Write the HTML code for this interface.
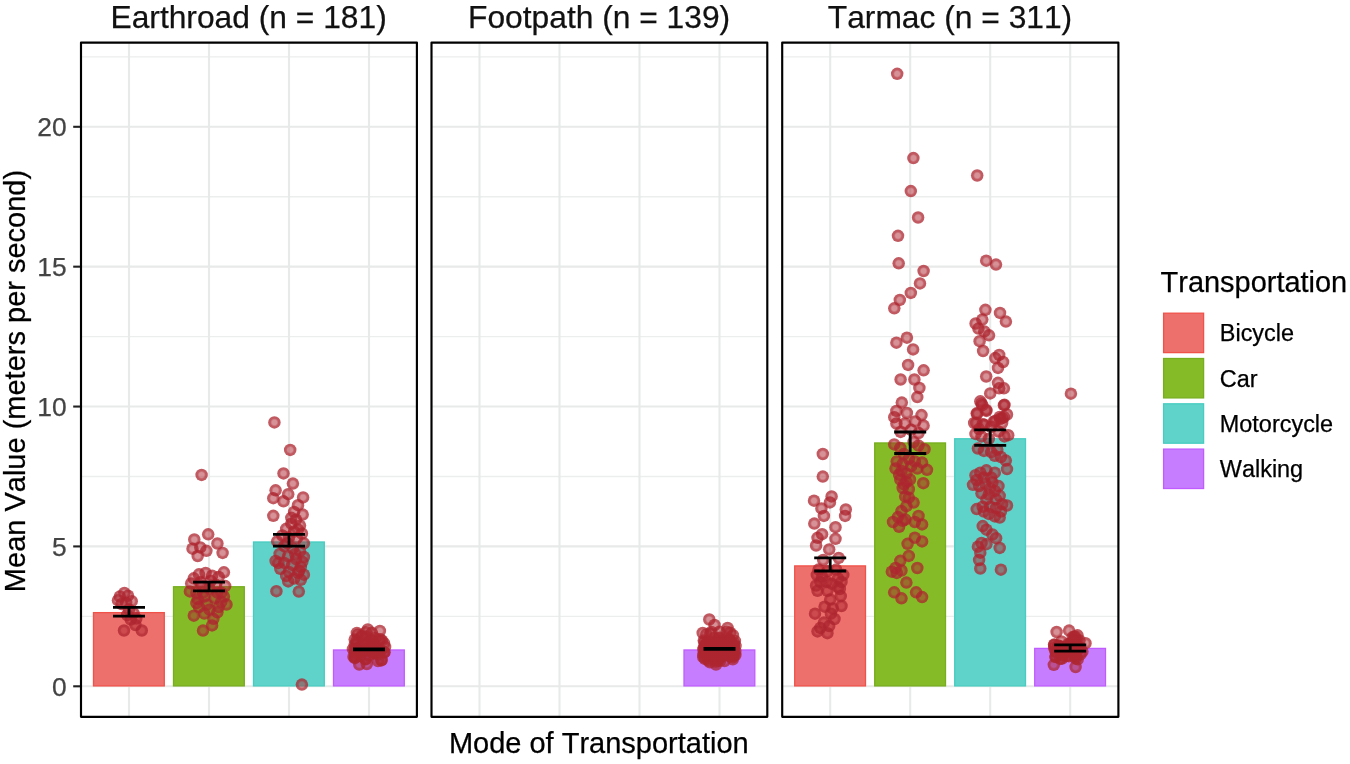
<!DOCTYPE html><html><head><meta charset="utf-8"><title>chart</title><style>html,body{margin:0;padding:0;background:#fff}svg{display:block;will-change:transform}text{font-family:"Liberation Sans",sans-serif;font-kerning:none;font-feature-settings:"kern" 0,"liga" 0;stroke-width:0.25px}</style></head><body>
<svg width="1350" height="764" viewBox="0 0 1350 764">
<rect width="1350" height="764" fill="#fff"/>
<g>
<line x1="81.0" x2="416.9" y1="616.36" y2="616.36" stroke="#ECEDED" stroke-width="1.4"/>
<line x1="81.0" x2="416.9" y1="476.49" y2="476.49" stroke="#ECEDED" stroke-width="1.4"/>
<line x1="81.0" x2="416.9" y1="336.61" y2="336.61" stroke="#ECEDED" stroke-width="1.4"/>
<line x1="81.0" x2="416.9" y1="196.74" y2="196.74" stroke="#ECEDED" stroke-width="1.4"/>
<line x1="81.0" x2="416.9" y1="56.86" y2="56.86" stroke="#ECEDED" stroke-width="1.4"/>
<line x1="81.0" x2="416.9" y1="686.30" y2="686.30" stroke="#E8E9E9" stroke-width="2.1"/>
<line x1="81.0" x2="416.9" y1="546.42" y2="546.42" stroke="#E8E9E9" stroke-width="2.1"/>
<line x1="81.0" x2="416.9" y1="406.55" y2="406.55" stroke="#E8E9E9" stroke-width="2.1"/>
<line x1="81.0" x2="416.9" y1="266.67" y2="266.67" stroke="#E8E9E9" stroke-width="2.1"/>
<line x1="81.0" x2="416.9" y1="126.80" y2="126.80" stroke="#E8E9E9" stroke-width="2.1"/>
<line x1="129.00" x2="129.00" y1="42.6" y2="716.8" stroke="#E8E9E9" stroke-width="2.1"/>
<line x1="209.00" x2="209.00" y1="42.6" y2="716.8" stroke="#E8E9E9" stroke-width="2.1"/>
<line x1="289.00" x2="289.00" y1="42.6" y2="716.8" stroke="#E8E9E9" stroke-width="2.1"/>
<line x1="369.00" x2="369.00" y1="42.6" y2="716.8" stroke="#E8E9E9" stroke-width="2.1"/>
</g>
<g>
<line x1="431.5" x2="767.3" y1="616.36" y2="616.36" stroke="#ECEDED" stroke-width="1.4"/>
<line x1="431.5" x2="767.3" y1="476.49" y2="476.49" stroke="#ECEDED" stroke-width="1.4"/>
<line x1="431.5" x2="767.3" y1="336.61" y2="336.61" stroke="#ECEDED" stroke-width="1.4"/>
<line x1="431.5" x2="767.3" y1="196.74" y2="196.74" stroke="#ECEDED" stroke-width="1.4"/>
<line x1="431.5" x2="767.3" y1="56.86" y2="56.86" stroke="#ECEDED" stroke-width="1.4"/>
<line x1="431.5" x2="767.3" y1="686.30" y2="686.30" stroke="#E8E9E9" stroke-width="2.1"/>
<line x1="431.5" x2="767.3" y1="546.42" y2="546.42" stroke="#E8E9E9" stroke-width="2.1"/>
<line x1="431.5" x2="767.3" y1="406.55" y2="406.55" stroke="#E8E9E9" stroke-width="2.1"/>
<line x1="431.5" x2="767.3" y1="266.67" y2="266.67" stroke="#E8E9E9" stroke-width="2.1"/>
<line x1="431.5" x2="767.3" y1="126.80" y2="126.80" stroke="#E8E9E9" stroke-width="2.1"/>
<line x1="479.50" x2="479.50" y1="42.6" y2="716.8" stroke="#E8E9E9" stroke-width="2.1"/>
<line x1="559.50" x2="559.50" y1="42.6" y2="716.8" stroke="#E8E9E9" stroke-width="2.1"/>
<line x1="639.50" x2="639.50" y1="42.6" y2="716.8" stroke="#E8E9E9" stroke-width="2.1"/>
<line x1="719.50" x2="719.50" y1="42.6" y2="716.8" stroke="#E8E9E9" stroke-width="2.1"/>
</g>
<g>
<line x1="782.2" x2="1118.4" y1="616.36" y2="616.36" stroke="#ECEDED" stroke-width="1.4"/>
<line x1="782.2" x2="1118.4" y1="476.49" y2="476.49" stroke="#ECEDED" stroke-width="1.4"/>
<line x1="782.2" x2="1118.4" y1="336.61" y2="336.61" stroke="#ECEDED" stroke-width="1.4"/>
<line x1="782.2" x2="1118.4" y1="196.74" y2="196.74" stroke="#ECEDED" stroke-width="1.4"/>
<line x1="782.2" x2="1118.4" y1="56.86" y2="56.86" stroke="#ECEDED" stroke-width="1.4"/>
<line x1="782.2" x2="1118.4" y1="686.30" y2="686.30" stroke="#E8E9E9" stroke-width="2.1"/>
<line x1="782.2" x2="1118.4" y1="546.42" y2="546.42" stroke="#E8E9E9" stroke-width="2.1"/>
<line x1="782.2" x2="1118.4" y1="406.55" y2="406.55" stroke="#E8E9E9" stroke-width="2.1"/>
<line x1="782.2" x2="1118.4" y1="266.67" y2="266.67" stroke="#E8E9E9" stroke-width="2.1"/>
<line x1="782.2" x2="1118.4" y1="126.80" y2="126.80" stroke="#E8E9E9" stroke-width="2.1"/>
<line x1="830.20" x2="830.20" y1="42.6" y2="716.8" stroke="#E8E9E9" stroke-width="2.1"/>
<line x1="910.20" x2="910.20" y1="42.6" y2="716.8" stroke="#E8E9E9" stroke-width="2.1"/>
<line x1="990.20" x2="990.20" y1="42.6" y2="716.8" stroke="#E8E9E9" stroke-width="2.1"/>
<line x1="1070.20" x2="1070.20" y1="42.6" y2="716.8" stroke="#E8E9E9" stroke-width="2.1"/>
</g>
<rect x="93.50" y="612.63" width="70.80" height="73.27" fill="#ED706C" stroke="#F0524A" stroke-width="1.3"/>
<rect x="173.50" y="586.75" width="70.80" height="99.15" fill="#85BB27" stroke="#77AD1E" stroke-width="1.3"/>
<rect x="253.50" y="541.99" width="70.80" height="143.91" fill="#5FD3C9" stroke="#48CCC1" stroke-width="1.3"/>
<rect x="333.50" y="649.97" width="70.80" height="35.93" fill="#C77DFF" stroke="#C05CFF" stroke-width="1.3"/>
<rect x="684.00" y="649.97" width="70.80" height="35.93" fill="#C77DFF" stroke="#C05CFF" stroke-width="1.3"/>
<rect x="794.70" y="565.91" width="70.80" height="119.99" fill="#ED706C" stroke="#F0524A" stroke-width="1.3"/>
<rect x="874.70" y="442.96" width="70.80" height="242.94" fill="#85BB27" stroke="#77AD1E" stroke-width="1.3"/>
<rect x="954.70" y="438.76" width="70.80" height="247.14" fill="#5FD3C9" stroke="#48CCC1" stroke-width="1.3"/>
<rect x="1034.70" y="648.41" width="70.80" height="37.49" fill="#C77DFF" stroke="#C05CFF" stroke-width="1.3"/>
<defs><radialGradient id="pg" cx="0.5" cy="0.5" r="0.5"><stop offset="0" stop-color="#AD252F" stop-opacity="0.5"/><stop offset="0.38" stop-color="#AD252F" stop-opacity="0.5"/><stop offset="0.66" stop-color="#AD252F" stop-opacity="0.76"/><stop offset="1" stop-color="#AD252F" stop-opacity="0.76"/></radialGradient></defs>
<g fill="url(#pg)">
<circle cx="124.0" cy="630.5" r="6.25"/>
<circle cx="141.8" cy="630.5" r="6.25"/>
<circle cx="135.4" cy="625.0" r="6.25"/>
<circle cx="130.8" cy="619.5" r="6.25"/>
<circle cx="136.3" cy="618.6" r="6.25"/>
<circle cx="124.4" cy="593.0" r="6.25"/>
<circle cx="119.8" cy="596.6" r="6.25"/>
<circle cx="128.0" cy="595.7" r="6.25"/>
<circle cx="118.0" cy="600.3" r="6.25"/>
<circle cx="131.7" cy="601.2" r="6.25"/>
<circle cx="126.2" cy="603.0" r="6.25"/>
<circle cx="121.6" cy="604.0" r="6.25"/>
<circle cx="129.0" cy="609.5" r="6.25"/>
<circle cx="133.5" cy="613.1" r="6.25"/>
<circle cx="127.1" cy="615.0" r="6.25"/>
<circle cx="201.6" cy="474.9" r="6.25"/>
<circle cx="208.2" cy="534.3" r="6.25"/>
<circle cx="194.3" cy="539.5" r="6.25"/>
<circle cx="217.4" cy="543.5" r="6.25"/>
<circle cx="192.5" cy="548.7" r="6.25"/>
<circle cx="200.3" cy="547.4" r="6.25"/>
<circle cx="206.4" cy="550.8" r="6.25"/>
<circle cx="222.6" cy="552.9" r="6.25"/>
<circle cx="197.7" cy="556.0" r="6.25"/>
<circle cx="223.9" cy="572.3" r="6.25"/>
<circle cx="193.8" cy="578.3" r="6.25"/>
<circle cx="199.0" cy="574.3" r="6.25"/>
<circle cx="205.6" cy="573.0" r="6.25"/>
<circle cx="212.1" cy="575.7" r="6.25"/>
<circle cx="218.7" cy="577.0" r="6.25"/>
<circle cx="191.2" cy="583.5" r="6.25"/>
<circle cx="225.2" cy="586.1" r="6.25"/>
<circle cx="189.9" cy="591.4" r="6.25"/>
<circle cx="221.3" cy="592.7" r="6.25"/>
<circle cx="197.7" cy="599.2" r="6.25"/>
<circle cx="204.3" cy="596.6" r="6.25"/>
<circle cx="214.7" cy="597.9" r="6.25"/>
<circle cx="221.3" cy="601.8" r="6.25"/>
<circle cx="226.5" cy="604.5" r="6.25"/>
<circle cx="199.0" cy="607.1" r="6.25"/>
<circle cx="209.5" cy="609.7" r="6.25"/>
<circle cx="217.4" cy="612.3" r="6.25"/>
<circle cx="193.8" cy="615.7" r="6.25"/>
<circle cx="204.3" cy="613.6" r="6.25"/>
<circle cx="213.4" cy="618.8" r="6.25"/>
<circle cx="212.1" cy="625.4" r="6.25"/>
<circle cx="203.0" cy="630.6" r="6.25"/>
<circle cx="218.7" cy="607.1" r="6.25"/>
<circle cx="196.4" cy="603.1" r="6.25"/>
<circle cx="201.6" cy="586.1" r="6.25"/>
<circle cx="209.5" cy="588.7" r="6.25"/>
<circle cx="216.0" cy="584.8" r="6.25"/>
<circle cx="196.4" cy="592.7" r="6.25"/>
<circle cx="206.9" cy="604.5" r="6.25"/>
<circle cx="223.9" cy="596.6" r="6.25"/>
<circle cx="210.8" cy="580.9" r="6.25"/>
<circle cx="203.0" cy="592.7" r="6.25"/>
<circle cx="217.4" cy="592.7" r="6.25"/>
<circle cx="200.3" cy="582.2" r="6.25"/>
<circle cx="274.4" cy="422.4" r="6.25"/>
<circle cx="290.2" cy="449.9" r="6.25"/>
<circle cx="283.5" cy="473.4" r="6.25"/>
<circle cx="292.9" cy="483.6" r="6.25"/>
<circle cx="275.6" cy="490.3" r="6.25"/>
<circle cx="288.2" cy="494.2" r="6.25"/>
<circle cx="273.3" cy="498.2" r="6.25"/>
<circle cx="303.1" cy="497.4" r="6.25"/>
<circle cx="283.5" cy="501.3" r="6.25"/>
<circle cx="298.0" cy="505.2" r="6.25"/>
<circle cx="273.3" cy="515.8" r="6.25"/>
<circle cx="302.7" cy="514.6" r="6.25"/>
<circle cx="294.1" cy="511.9" r="6.25"/>
<circle cx="276.4" cy="591.2" r="6.25"/>
<circle cx="298.8" cy="591.6" r="6.25"/>
<circle cx="288.2" cy="581.4" r="6.25"/>
<circle cx="301.9" cy="684.6" r="6.25"/>
<circle cx="296.0" cy="519.7" r="6.25"/>
<circle cx="291.3" cy="523.7" r="6.25"/>
<circle cx="300.0" cy="525.6" r="6.25"/>
<circle cx="286.2" cy="528.8" r="6.25"/>
<circle cx="294.1" cy="531.5" r="6.25"/>
<circle cx="301.9" cy="533.5" r="6.25"/>
<circle cx="282.3" cy="535.5" r="6.25"/>
<circle cx="289.0" cy="537.4" r="6.25"/>
<circle cx="296.8" cy="538.2" r="6.25"/>
<circle cx="277.2" cy="541.3" r="6.25"/>
<circle cx="303.9" cy="543.3" r="6.25"/>
<circle cx="284.3" cy="546.1" r="6.25"/>
<circle cx="292.9" cy="548.4" r="6.25"/>
<circle cx="300.0" cy="551.2" r="6.25"/>
<circle cx="279.6" cy="553.9" r="6.25"/>
<circle cx="288.2" cy="556.3" r="6.25"/>
<circle cx="296.0" cy="559.0" r="6.25"/>
<circle cx="303.9" cy="557.0" r="6.25"/>
<circle cx="275.6" cy="561.0" r="6.25"/>
<circle cx="284.3" cy="562.9" r="6.25"/>
<circle cx="292.1" cy="564.9" r="6.25"/>
<circle cx="300.8" cy="566.9" r="6.25"/>
<circle cx="280.3" cy="568.8" r="6.25"/>
<circle cx="289.0" cy="572.0" r="6.25"/>
<circle cx="298.0" cy="572.8" r="6.25"/>
<circle cx="303.9" cy="574.7" r="6.25"/>
<circle cx="294.1" cy="578.6" r="6.25"/>
<circle cx="286.2" cy="575.9" r="6.25"/>
<circle cx="300.8" cy="579.8" r="6.25"/>
<circle cx="278.4" cy="562.9" r="6.25"/>
<circle cx="291.3" cy="517.8" r="6.25"/>
<circle cx="298.0" cy="529.6" r="6.25"/>
<circle cx="287.4" cy="543.3" r="6.25"/>
<circle cx="295.3" cy="553.9" r="6.25"/>
<circle cx="302.3" cy="561.8" r="6.25"/>
<circle cx="299.2" cy="570.8" r="6.25"/>
<circle cx="822.8" cy="454.0" r="6.25"/>
<circle cx="822.8" cy="476.6" r="6.25"/>
<circle cx="814.0" cy="500.7" r="6.25"/>
<circle cx="831.6" cy="496.4" r="6.25"/>
<circle cx="829.9" cy="502.4" r="6.25"/>
<circle cx="821.4" cy="508.4" r="6.25"/>
<circle cx="845.8" cy="509.5" r="6.25"/>
<circle cx="823.9" cy="515.9" r="6.25"/>
<circle cx="845.1" cy="515.9" r="6.25"/>
<circle cx="814.3" cy="523.6" r="6.25"/>
<circle cx="835.5" cy="527.2" r="6.25"/>
<circle cx="822.1" cy="534.2" r="6.25"/>
<circle cx="817.5" cy="537.8" r="6.25"/>
<circle cx="835.5" cy="538.8" r="6.25"/>
<circle cx="816.1" cy="545.5" r="6.25"/>
<circle cx="829.2" cy="549.4" r="6.25"/>
<circle cx="823.2" cy="560.0" r="6.25"/>
<circle cx="838.7" cy="557.9" r="6.25"/>
<circle cx="815.0" cy="613.7" r="6.25"/>
<circle cx="817.5" cy="631.4" r="6.25"/>
<circle cx="827.4" cy="633.2" r="6.25"/>
<circle cx="841.5" cy="606.0" r="6.25"/>
<circle cx="830.9" cy="613.7" r="6.25"/>
<circle cx="823.9" cy="622.6" r="6.25"/>
<circle cx="830.2" cy="599.6" r="6.25"/>
<circle cx="839.8" cy="589.0" r="6.25"/>
<circle cx="827.4" cy="590.8" r="6.25"/>
<circle cx="817.5" cy="590.8" r="6.25"/>
<circle cx="820.3" cy="581.9" r="6.25"/>
<circle cx="838.0" cy="578.4" r="6.25"/>
<circle cx="818.6" cy="569.6" r="6.25"/>
<circle cx="827.4" cy="571.3" r="6.25"/>
<circle cx="836.2" cy="569.6" r="6.25"/>
<circle cx="843.3" cy="574.9" r="6.25"/>
<circle cx="822.1" cy="576.6" r="6.25"/>
<circle cx="831.6" cy="583.7" r="6.25"/>
<circle cx="816.1" cy="585.5" r="6.25"/>
<circle cx="840.8" cy="596.1" r="6.25"/>
<circle cx="824.6" cy="606.7" r="6.25"/>
<circle cx="834.5" cy="619.0" r="6.25"/>
<circle cx="820.3" cy="627.9" r="6.25"/>
<circle cx="829.2" cy="626.1" r="6.25"/>
<circle cx="832.7" cy="608.4" r="6.25"/>
<circle cx="838.0" cy="587.2" r="6.25"/>
<circle cx="816.8" cy="574.9" r="6.25"/>
<circle cx="826.7" cy="581.9" r="6.25"/>
<circle cx="841.5" cy="581.9" r="6.25"/>
<circle cx="897.2" cy="73.8" r="6.25"/>
<circle cx="913.4" cy="158.1" r="6.25"/>
<circle cx="910.8" cy="191.1" r="6.25"/>
<circle cx="918.1" cy="217.5" r="6.25"/>
<circle cx="898.0" cy="235.8" r="6.25"/>
<circle cx="898.7" cy="263.3" r="6.25"/>
<circle cx="923.6" cy="271.0" r="6.25"/>
<circle cx="920.0" cy="283.4" r="6.25"/>
<circle cx="910.8" cy="292.9" r="6.25"/>
<circle cx="899.8" cy="299.9" r="6.25"/>
<circle cx="894.3" cy="308.3" r="6.25"/>
<circle cx="906.9" cy="337.7" r="6.25"/>
<circle cx="896.4" cy="342.7" r="6.25"/>
<circle cx="913.1" cy="349.4" r="6.25"/>
<circle cx="908.1" cy="364.9" r="6.25"/>
<circle cx="923.6" cy="370.3" r="6.25"/>
<circle cx="900.6" cy="379.5" r="6.25"/>
<circle cx="914.4" cy="379.5" r="6.25"/>
<circle cx="919.4" cy="387.9" r="6.25"/>
<circle cx="917.3" cy="397.1" r="6.25"/>
<circle cx="901.8" cy="402.6" r="6.25"/>
<circle cx="896.4" cy="410.9" r="6.25"/>
<circle cx="921.5" cy="415.1" r="6.25"/>
<circle cx="915.2" cy="421.4" r="6.25"/>
<circle cx="904.8" cy="423.5" r="6.25"/>
<circle cx="896.4" cy="423.5" r="6.25"/>
<circle cx="911.0" cy="429.8" r="6.25"/>
<circle cx="900.6" cy="431.9" r="6.25"/>
<circle cx="923.6" cy="425.6" r="6.25"/>
<circle cx="906.9" cy="413.0" r="6.25"/>
<circle cx="918.6" cy="433.1" r="6.25"/>
<circle cx="894.3" cy="417.2" r="6.25"/>
<circle cx="894.2" cy="444.4" r="6.25"/>
<circle cx="900.3" cy="448.0" r="6.25"/>
<circle cx="918.5" cy="445.6" r="6.25"/>
<circle cx="924.5" cy="449.2" r="6.25"/>
<circle cx="913.6" cy="442.0" r="6.25"/>
<circle cx="896.7" cy="461.4" r="6.25"/>
<circle cx="902.7" cy="463.8" r="6.25"/>
<circle cx="908.8" cy="458.9" r="6.25"/>
<circle cx="914.8" cy="461.4" r="6.25"/>
<circle cx="922.1" cy="462.6" r="6.25"/>
<circle cx="927.0" cy="469.8" r="6.25"/>
<circle cx="895.5" cy="468.6" r="6.25"/>
<circle cx="901.5" cy="471.1" r="6.25"/>
<circle cx="917.3" cy="468.6" r="6.25"/>
<circle cx="906.4" cy="473.5" r="6.25"/>
<circle cx="900.3" cy="479.5" r="6.25"/>
<circle cx="906.4" cy="482.0" r="6.25"/>
<circle cx="923.3" cy="483.2" r="6.25"/>
<circle cx="902.7" cy="488.0" r="6.25"/>
<circle cx="908.8" cy="489.2" r="6.25"/>
<circle cx="905.2" cy="496.5" r="6.25"/>
<circle cx="913.6" cy="502.6" r="6.25"/>
<circle cx="906.4" cy="506.2" r="6.25"/>
<circle cx="901.5" cy="511.1" r="6.25"/>
<circle cx="897.9" cy="517.1" r="6.25"/>
<circle cx="893.0" cy="522.0" r="6.25"/>
<circle cx="899.1" cy="526.8" r="6.25"/>
<circle cx="905.2" cy="519.5" r="6.25"/>
<circle cx="918.5" cy="515.9" r="6.25"/>
<circle cx="914.8" cy="522.0" r="6.25"/>
<circle cx="922.1" cy="524.4" r="6.25"/>
<circle cx="914.8" cy="537.7" r="6.25"/>
<circle cx="922.1" cy="541.4" r="6.25"/>
<circle cx="907.6" cy="543.8" r="6.25"/>
<circle cx="908.8" cy="555.9" r="6.25"/>
<circle cx="900.3" cy="560.8" r="6.25"/>
<circle cx="895.5" cy="568.0" r="6.25"/>
<circle cx="891.8" cy="571.7" r="6.25"/>
<circle cx="901.5" cy="570.5" r="6.25"/>
<circle cx="917.3" cy="568.0" r="6.25"/>
<circle cx="906.4" cy="582.6" r="6.25"/>
<circle cx="894.2" cy="592.3" r="6.25"/>
<circle cx="901.5" cy="598.3" r="6.25"/>
<circle cx="916.1" cy="592.3" r="6.25"/>
<circle cx="922.1" cy="597.1" r="6.25"/>
<circle cx="903.9" cy="454.1" r="6.25"/>
<circle cx="911.2" cy="466.2" r="6.25"/>
<circle cx="899.1" cy="474.7" r="6.25"/>
<circle cx="910.0" cy="479.5" r="6.25"/>
<circle cx="903.9" cy="484.4" r="6.25"/>
<circle cx="908.8" cy="497.7" r="6.25"/>
<circle cx="902.7" cy="520.8" r="6.25"/>
<circle cx="896.7" cy="572.9" r="6.25"/>
<circle cx="977.2" cy="175.5" r="6.25"/>
<circle cx="986.2" cy="260.7" r="6.25"/>
<circle cx="996.0" cy="264.6" r="6.25"/>
<circle cx="985.4" cy="309.8" r="6.25"/>
<circle cx="1000.0" cy="312.9" r="6.25"/>
<circle cx="1005.9" cy="321.6" r="6.25"/>
<circle cx="982.3" cy="319.6" r="6.25"/>
<circle cx="975.6" cy="323.5" r="6.25"/>
<circle cx="978.4" cy="328.6" r="6.25"/>
<circle cx="984.3" cy="331.4" r="6.25"/>
<circle cx="989.0" cy="335.3" r="6.25"/>
<circle cx="979.6" cy="341.2" r="6.25"/>
<circle cx="983.1" cy="351.0" r="6.25"/>
<circle cx="999.2" cy="354.9" r="6.25"/>
<circle cx="995.3" cy="358.1" r="6.25"/>
<circle cx="1003.1" cy="362.0" r="6.25"/>
<circle cx="998.0" cy="367.9" r="6.25"/>
<circle cx="986.2" cy="376.5" r="6.25"/>
<circle cx="998.0" cy="382.8" r="6.25"/>
<circle cx="1003.9" cy="388.3" r="6.25"/>
<circle cx="999.2" cy="388.3" r="6.25"/>
<circle cx="990.2" cy="393.4" r="6.25"/>
<circle cx="1003.9" cy="405.2" r="6.25"/>
<circle cx="982.3" cy="405.2" r="6.25"/>
<circle cx="986.2" cy="409.9" r="6.25"/>
<circle cx="977.2" cy="413.8" r="6.25"/>
<circle cx="1000.0" cy="418.9" r="6.25"/>
<circle cx="995.3" cy="420.9" r="6.25"/>
<circle cx="976.4" cy="422.9" r="6.25"/>
<circle cx="984.3" cy="424.8" r="6.25"/>
<circle cx="1003.9" cy="417.0" r="6.25"/>
<circle cx="991.3" cy="426.8" r="6.25"/>
<circle cx="980.3" cy="401.3" r="6.25"/>
<circle cx="981.5" cy="403.6" r="6.25"/>
<circle cx="1004.5" cy="404.8" r="6.25"/>
<circle cx="976.7" cy="413.3" r="6.25"/>
<circle cx="986.4" cy="410.9" r="6.25"/>
<circle cx="999.7" cy="417.0" r="6.25"/>
<circle cx="1007.0" cy="414.5" r="6.25"/>
<circle cx="974.2" cy="423.0" r="6.25"/>
<circle cx="982.7" cy="424.2" r="6.25"/>
<circle cx="993.6" cy="421.8" r="6.25"/>
<circle cx="1002.1" cy="423.0" r="6.25"/>
<circle cx="975.5" cy="433.9" r="6.25"/>
<circle cx="981.5" cy="436.4" r="6.25"/>
<circle cx="998.5" cy="431.5" r="6.25"/>
<circle cx="1004.5" cy="436.4" r="6.25"/>
<circle cx="1008.2" cy="435.2" r="6.25"/>
<circle cx="977.9" cy="448.5" r="6.25"/>
<circle cx="983.9" cy="450.9" r="6.25"/>
<circle cx="991.2" cy="452.1" r="6.25"/>
<circle cx="997.3" cy="449.7" r="6.25"/>
<circle cx="1000.9" cy="457.0" r="6.25"/>
<circle cx="1005.8" cy="460.6" r="6.25"/>
<circle cx="1007.0" cy="469.1" r="6.25"/>
<circle cx="986.4" cy="470.3" r="6.25"/>
<circle cx="980.3" cy="472.7" r="6.25"/>
<circle cx="975.5" cy="475.2" r="6.25"/>
<circle cx="994.8" cy="472.7" r="6.25"/>
<circle cx="991.2" cy="477.6" r="6.25"/>
<circle cx="973.0" cy="484.8" r="6.25"/>
<circle cx="979.1" cy="486.1" r="6.25"/>
<circle cx="985.2" cy="483.6" r="6.25"/>
<circle cx="992.4" cy="482.4" r="6.25"/>
<circle cx="998.5" cy="486.1" r="6.25"/>
<circle cx="981.5" cy="493.3" r="6.25"/>
<circle cx="988.8" cy="494.5" r="6.25"/>
<circle cx="994.8" cy="490.9" r="6.25"/>
<circle cx="999.7" cy="495.8" r="6.25"/>
<circle cx="986.4" cy="499.4" r="6.25"/>
<circle cx="976.7" cy="509.1" r="6.25"/>
<circle cx="982.7" cy="506.7" r="6.25"/>
<circle cx="990.0" cy="506.7" r="6.25"/>
<circle cx="996.1" cy="507.9" r="6.25"/>
<circle cx="1002.1" cy="504.2" r="6.25"/>
<circle cx="1007.0" cy="505.5" r="6.25"/>
<circle cx="988.8" cy="513.9" r="6.25"/>
<circle cx="994.8" cy="516.4" r="6.25"/>
<circle cx="999.7" cy="517.6" r="6.25"/>
<circle cx="982.7" cy="526.1" r="6.25"/>
<circle cx="986.4" cy="529.7" r="6.25"/>
<circle cx="992.4" cy="534.5" r="6.25"/>
<circle cx="996.1" cy="538.2" r="6.25"/>
<circle cx="981.5" cy="543.0" r="6.25"/>
<circle cx="986.4" cy="544.2" r="6.25"/>
<circle cx="977.9" cy="546.7" r="6.25"/>
<circle cx="999.7" cy="547.9" r="6.25"/>
<circle cx="980.3" cy="552.7" r="6.25"/>
<circle cx="979.1" cy="560.0" r="6.25"/>
<circle cx="980.3" cy="568.5" r="6.25"/>
<circle cx="1000.9" cy="569.7" r="6.25"/>
<circle cx="988.8" cy="438.8" r="6.25"/>
<circle cx="994.8" cy="455.8" r="6.25"/>
<circle cx="983.9" cy="477.6" r="6.25"/>
<circle cx="976.7" cy="480.0" r="6.25"/>
<circle cx="990.0" cy="488.5" r="6.25"/>
<circle cx="996.1" cy="499.4" r="6.25"/>
<circle cx="983.9" cy="511.5" r="6.25"/>
<circle cx="1000.9" cy="511.5" r="6.25"/>
<circle cx="1002.1" cy="418.2" r="6.25"/>
<circle cx="979.1" cy="429.1" r="6.25"/>
<circle cx="374.3" cy="645.7" r="6.25"/>
<circle cx="355.2" cy="652.6" r="6.25"/>
<circle cx="354.7" cy="639.6" r="6.25"/>
<circle cx="369.5" cy="646.1" r="6.25"/>
<circle cx="355.1" cy="657.3" r="6.25"/>
<circle cx="355.8" cy="650.2" r="6.25"/>
<circle cx="356.9" cy="633.0" r="6.25"/>
<circle cx="360.2" cy="655.7" r="6.25"/>
<circle cx="371.8" cy="632.8" r="6.25"/>
<circle cx="365.9" cy="632.3" r="6.25"/>
<circle cx="381.1" cy="650.7" r="6.25"/>
<circle cx="362.4" cy="647.6" r="6.25"/>
<circle cx="363.0" cy="650.8" r="6.25"/>
<circle cx="379.7" cy="651.5" r="6.25"/>
<circle cx="373.9" cy="653.0" r="6.25"/>
<circle cx="365.1" cy="658.8" r="6.25"/>
<circle cx="354.8" cy="644.9" r="6.25"/>
<circle cx="359.6" cy="647.0" r="6.25"/>
<circle cx="363.2" cy="644.0" r="6.25"/>
<circle cx="372.1" cy="639.4" r="6.25"/>
<circle cx="379.0" cy="640.7" r="6.25"/>
<circle cx="375.9" cy="650.2" r="6.25"/>
<circle cx="370.1" cy="648.4" r="6.25"/>
<circle cx="381.7" cy="659.8" r="6.25"/>
<circle cx="385.1" cy="647.0" r="6.25"/>
<circle cx="356.7" cy="640.6" r="6.25"/>
<circle cx="357.8" cy="634.8" r="6.25"/>
<circle cx="368.9" cy="655.5" r="6.25"/>
<circle cx="378.0" cy="661.0" r="6.25"/>
<circle cx="371.7" cy="651.3" r="6.25"/>
<circle cx="375.7" cy="653.5" r="6.25"/>
<circle cx="372.4" cy="642.5" r="6.25"/>
<circle cx="380.5" cy="639.3" r="6.25"/>
<circle cx="384.0" cy="643.2" r="6.25"/>
<circle cx="375.9" cy="650.2" r="6.25"/>
<circle cx="379.9" cy="630.9" r="6.25"/>
<circle cx="374.9" cy="646.1" r="6.25"/>
<circle cx="353.5" cy="656.7" r="6.25"/>
<circle cx="356.7" cy="642.7" r="6.25"/>
<circle cx="354.7" cy="649.3" r="6.25"/>
<circle cx="361.0" cy="648.5" r="6.25"/>
<circle cx="365.7" cy="643.3" r="6.25"/>
<circle cx="367.6" cy="650.5" r="6.25"/>
<circle cx="370.9" cy="645.3" r="6.25"/>
<circle cx="381.3" cy="660.4" r="6.25"/>
<circle cx="362.0" cy="636.9" r="6.25"/>
<circle cx="382.0" cy="640.7" r="6.25"/>
<circle cx="384.4" cy="652.3" r="6.25"/>
<circle cx="360.5" cy="651.3" r="6.25"/>
<circle cx="360.5" cy="652.6" r="6.25"/>
<circle cx="361.5" cy="636.0" r="6.25"/>
<circle cx="352.9" cy="649.1" r="6.25"/>
<circle cx="371.5" cy="640.5" r="6.25"/>
<circle cx="384.3" cy="652.2" r="6.25"/>
<circle cx="373.2" cy="644.0" r="6.25"/>
<circle cx="375.1" cy="637.9" r="6.25"/>
<circle cx="378.5" cy="654.4" r="6.25"/>
<circle cx="365.7" cy="659.3" r="6.25"/>
<circle cx="366.0" cy="636.6" r="6.25"/>
<circle cx="354.9" cy="658.2" r="6.25"/>
<circle cx="355.0" cy="655.7" r="6.25"/>
<circle cx="364.0" cy="649.4" r="6.25"/>
<circle cx="367.8" cy="629.5" r="6.25"/>
<circle cx="359.3" cy="664.5" r="6.25"/>
<circle cx="366.8" cy="664.0" r="6.25"/>
<circle cx="704.5" cy="653.4" r="6.25"/>
<circle cx="706.1" cy="653.4" r="6.25"/>
<circle cx="714.8" cy="648.5" r="6.25"/>
<circle cx="723.1" cy="651.3" r="6.25"/>
<circle cx="714.3" cy="652.4" r="6.25"/>
<circle cx="714.8" cy="653.7" r="6.25"/>
<circle cx="718.2" cy="660.0" r="6.25"/>
<circle cx="706.2" cy="644.9" r="6.25"/>
<circle cx="714.1" cy="648.9" r="6.25"/>
<circle cx="708.1" cy="647.0" r="6.25"/>
<circle cx="707.6" cy="658.4" r="6.25"/>
<circle cx="720.7" cy="645.3" r="6.25"/>
<circle cx="731.3" cy="650.3" r="6.25"/>
<circle cx="714.9" cy="646.3" r="6.25"/>
<circle cx="708.3" cy="642.3" r="6.25"/>
<circle cx="728.5" cy="649.9" r="6.25"/>
<circle cx="713.7" cy="638.1" r="6.25"/>
<circle cx="735.3" cy="651.1" r="6.25"/>
<circle cx="727.2" cy="653.9" r="6.25"/>
<circle cx="710.3" cy="633.8" r="6.25"/>
<circle cx="703.8" cy="640.6" r="6.25"/>
<circle cx="703.7" cy="647.6" r="6.25"/>
<circle cx="725.7" cy="647.3" r="6.25"/>
<circle cx="734.4" cy="655.0" r="6.25"/>
<circle cx="735.4" cy="655.0" r="6.25"/>
<circle cx="710.1" cy="656.3" r="6.25"/>
<circle cx="710.3" cy="646.2" r="6.25"/>
<circle cx="723.4" cy="650.4" r="6.25"/>
<circle cx="732.5" cy="653.9" r="6.25"/>
<circle cx="724.3" cy="653.7" r="6.25"/>
<circle cx="729.2" cy="640.3" r="6.25"/>
<circle cx="732.8" cy="659.3" r="6.25"/>
<circle cx="728.6" cy="654.8" r="6.25"/>
<circle cx="708.7" cy="648.5" r="6.25"/>
<circle cx="728.8" cy="638.8" r="6.25"/>
<circle cx="734.9" cy="640.9" r="6.25"/>
<circle cx="715.9" cy="661.8" r="6.25"/>
<circle cx="726.7" cy="631.7" r="6.25"/>
<circle cx="708.4" cy="660.5" r="6.25"/>
<circle cx="732.7" cy="651.9" r="6.25"/>
<circle cx="729.4" cy="652.0" r="6.25"/>
<circle cx="724.5" cy="661.1" r="6.25"/>
<circle cx="707.1" cy="642.2" r="6.25"/>
<circle cx="703.3" cy="657.2" r="6.25"/>
<circle cx="720.2" cy="660.6" r="6.25"/>
<circle cx="733.6" cy="646.3" r="6.25"/>
<circle cx="730.1" cy="632.7" r="6.25"/>
<circle cx="709.8" cy="655.5" r="6.25"/>
<circle cx="710.7" cy="648.4" r="6.25"/>
<circle cx="722.2" cy="655.6" r="6.25"/>
<circle cx="707.1" cy="648.0" r="6.25"/>
<circle cx="732.8" cy="657.3" r="6.25"/>
<circle cx="722.1" cy="642.8" r="6.25"/>
<circle cx="732.6" cy="656.0" r="6.25"/>
<circle cx="719.4" cy="631.8" r="6.25"/>
<circle cx="720.4" cy="657.6" r="6.25"/>
<circle cx="717.3" cy="646.9" r="6.25"/>
<circle cx="708.8" cy="648.3" r="6.25"/>
<circle cx="718.4" cy="648.9" r="6.25"/>
<circle cx="713.6" cy="646.8" r="6.25"/>
<circle cx="719.9" cy="637.8" r="6.25"/>
<circle cx="706.3" cy="634.5" r="6.25"/>
<circle cx="721.3" cy="643.4" r="6.25"/>
<circle cx="728.3" cy="648.6" r="6.25"/>
<circle cx="719.6" cy="655.3" r="6.25"/>
<circle cx="732.9" cy="635.2" r="6.25"/>
<circle cx="717.4" cy="643.1" r="6.25"/>
<circle cx="719.7" cy="640.8" r="6.25"/>
<circle cx="725.7" cy="641.9" r="6.25"/>
<circle cx="718.6" cy="638.5" r="6.25"/>
<circle cx="733.9" cy="651.6" r="6.25"/>
<circle cx="733.9" cy="643.0" r="6.25"/>
<circle cx="711.4" cy="632.0" r="6.25"/>
<circle cx="730.5" cy="641.1" r="6.25"/>
<circle cx="717.4" cy="651.3" r="6.25"/>
<circle cx="705.2" cy="651.8" r="6.25"/>
<circle cx="724.9" cy="648.7" r="6.25"/>
<circle cx="728.7" cy="651.8" r="6.25"/>
<circle cx="726.4" cy="652.4" r="6.25"/>
<circle cx="724.6" cy="645.5" r="6.25"/>
<circle cx="710.0" cy="662.3" r="6.25"/>
<circle cx="718.9" cy="656.7" r="6.25"/>
<circle cx="735.5" cy="646.0" r="6.25"/>
<circle cx="717.0" cy="651.0" r="6.25"/>
<circle cx="719.8" cy="644.1" r="6.25"/>
<circle cx="713.3" cy="645.5" r="6.25"/>
<circle cx="726.6" cy="653.3" r="6.25"/>
<circle cx="717.3" cy="659.2" r="6.25"/>
<circle cx="703.4" cy="649.8" r="6.25"/>
<circle cx="719.7" cy="642.7" r="6.25"/>
<circle cx="704.9" cy="658.9" r="6.25"/>
<circle cx="706.3" cy="647.1" r="6.25"/>
<circle cx="728.5" cy="648.3" r="6.25"/>
<circle cx="711.7" cy="650.9" r="6.25"/>
<circle cx="732.9" cy="654.6" r="6.25"/>
<circle cx="729.8" cy="655.0" r="6.25"/>
<circle cx="733.1" cy="648.2" r="6.25"/>
<circle cx="721.6" cy="653.3" r="6.25"/>
<circle cx="704.7" cy="647.4" r="6.25"/>
<circle cx="725.5" cy="645.0" r="6.25"/>
<circle cx="733.8" cy="645.6" r="6.25"/>
<circle cx="723.7" cy="650.0" r="6.25"/>
<circle cx="731.1" cy="649.6" r="6.25"/>
<circle cx="705.0" cy="645.1" r="6.25"/>
<circle cx="714.0" cy="654.6" r="6.25"/>
<circle cx="721.1" cy="641.4" r="6.25"/>
<circle cx="707.1" cy="654.5" r="6.25"/>
<circle cx="720.2" cy="645.5" r="6.25"/>
<circle cx="708.1" cy="648.8" r="6.25"/>
<circle cx="704.5" cy="652.6" r="6.25"/>
<circle cx="712.9" cy="650.7" r="6.25"/>
<circle cx="727.9" cy="655.5" r="6.25"/>
<circle cx="708.7" cy="646.0" r="6.25"/>
<circle cx="714.3" cy="658.2" r="6.25"/>
<circle cx="703.3" cy="654.9" r="6.25"/>
<circle cx="727.0" cy="649.2" r="6.25"/>
<circle cx="718.5" cy="643.3" r="6.25"/>
<circle cx="733.6" cy="646.8" r="6.25"/>
<circle cx="717.1" cy="660.8" r="6.25"/>
<circle cx="719.1" cy="658.2" r="6.25"/>
<circle cx="719.5" cy="652.8" r="6.25"/>
<circle cx="725.5" cy="641.2" r="6.25"/>
<circle cx="730.3" cy="656.2" r="6.25"/>
<circle cx="726.1" cy="647.6" r="6.25"/>
<circle cx="714.3" cy="642.8" r="6.25"/>
<circle cx="704.6" cy="642.0" r="6.25"/>
<circle cx="727.2" cy="650.7" r="6.25"/>
<circle cx="711.2" cy="650.9" r="6.25"/>
<circle cx="730.6" cy="650.4" r="6.25"/>
<circle cx="731.5" cy="651.6" r="6.25"/>
<circle cx="710.8" cy="645.2" r="6.25"/>
<circle cx="712.5" cy="642.4" r="6.25"/>
<circle cx="709.3" cy="619.5" r="6.25"/>
<circle cx="714.5" cy="625.0" r="6.25"/>
<circle cx="702.7" cy="633.0" r="6.25"/>
<circle cx="727.6" cy="628.0" r="6.25"/>
<circle cx="716.0" cy="664.5" r="6.25"/>
<circle cx="1068.3" cy="644.0" r="6.25"/>
<circle cx="1062.4" cy="649.0" r="6.25"/>
<circle cx="1071.5" cy="643.5" r="6.25"/>
<circle cx="1063.9" cy="648.6" r="6.25"/>
<circle cx="1066.2" cy="647.8" r="6.25"/>
<circle cx="1069.2" cy="648.3" r="6.25"/>
<circle cx="1070.2" cy="643.3" r="6.25"/>
<circle cx="1054.2" cy="647.9" r="6.25"/>
<circle cx="1066.8" cy="647.7" r="6.25"/>
<circle cx="1055.3" cy="651.0" r="6.25"/>
<circle cx="1061.4" cy="653.9" r="6.25"/>
<circle cx="1072.7" cy="648.8" r="6.25"/>
<circle cx="1075.0" cy="636.5" r="6.25"/>
<circle cx="1076.9" cy="645.9" r="6.25"/>
<circle cx="1064.4" cy="653.0" r="6.25"/>
<circle cx="1085.5" cy="643.2" r="6.25"/>
<circle cx="1074.6" cy="654.6" r="6.25"/>
<circle cx="1055.4" cy="657.1" r="6.25"/>
<circle cx="1074.1" cy="655.5" r="6.25"/>
<circle cx="1077.5" cy="635.3" r="6.25"/>
<circle cx="1070.8" cy="649.5" r="6.25"/>
<circle cx="1070.1" cy="644.5" r="6.25"/>
<circle cx="1080.4" cy="654.4" r="6.25"/>
<circle cx="1072.7" cy="637.1" r="6.25"/>
<circle cx="1076.2" cy="656.3" r="6.25"/>
<circle cx="1061.4" cy="641.4" r="6.25"/>
<circle cx="1065.5" cy="651.7" r="6.25"/>
<circle cx="1057.4" cy="648.7" r="6.25"/>
<circle cx="1074.1" cy="652.6" r="6.25"/>
<circle cx="1074.0" cy="640.3" r="6.25"/>
<circle cx="1054.1" cy="644.6" r="6.25"/>
<circle cx="1079.5" cy="640.6" r="6.25"/>
<circle cx="1071.1" cy="647.9" r="6.25"/>
<circle cx="1075.1" cy="639.7" r="6.25"/>
<circle cx="1062.1" cy="658.5" r="6.25"/>
<circle cx="1056.4" cy="652.6" r="6.25"/>
<circle cx="1060.6" cy="646.9" r="6.25"/>
<circle cx="1077.7" cy="659.3" r="6.25"/>
<circle cx="1066.2" cy="656.1" r="6.25"/>
<circle cx="1069.3" cy="646.8" r="6.25"/>
<circle cx="1073.7" cy="643.2" r="6.25"/>
<circle cx="1074.6" cy="637.1" r="6.25"/>
<circle cx="1062.1" cy="651.5" r="6.25"/>
<circle cx="1077.8" cy="649.8" r="6.25"/>
<circle cx="1054.4" cy="645.0" r="6.25"/>
<circle cx="1055.9" cy="656.5" r="6.25"/>
<circle cx="1076.1" cy="646.8" r="6.25"/>
<circle cx="1075.6" cy="658.4" r="6.25"/>
<circle cx="1068.9" cy="645.9" r="6.25"/>
<circle cx="1068.9" cy="656.2" r="6.25"/>
<circle cx="1060.4" cy="658.9" r="6.25"/>
<circle cx="1068.7" cy="649.2" r="6.25"/>
<circle cx="1080.2" cy="647.5" r="6.25"/>
<circle cx="1062.6" cy="655.5" r="6.25"/>
<circle cx="1060.7" cy="646.5" r="6.25"/>
<circle cx="1072.6" cy="652.5" r="6.25"/>
<circle cx="1058.5" cy="646.4" r="6.25"/>
<circle cx="1058.2" cy="645.4" r="6.25"/>
<circle cx="1082.4" cy="651.6" r="6.25"/>
<circle cx="1076.5" cy="640.5" r="6.25"/>
<circle cx="1069.6" cy="649.7" r="6.25"/>
<circle cx="1069.7" cy="648.6" r="6.25"/>
<circle cx="1068.4" cy="648.1" r="6.25"/>
<circle cx="1065.0" cy="646.8" r="6.25"/>
<circle cx="1064.1" cy="651.7" r="6.25"/>
<circle cx="1078.0" cy="648.2" r="6.25"/>
<circle cx="1069.1" cy="630.6" r="6.25"/>
<circle cx="1056.6" cy="632.0" r="6.25"/>
<circle cx="1053.8" cy="664.8" r="6.25"/>
<circle cx="1075.6" cy="667.0" r="6.25"/>
<circle cx="1070.9" cy="393.7" r="6.25"/>
</g>
<g stroke="#000" stroke-width="2.8" fill="none">
<path d="M113.0 607.3H145.0M113.0 616.1H145.0M129.0 607.3V616.1"/>
<path d="M193.0 582.1H225.0M193.0 590.9H225.0M209.0 582.1V590.9"/>
<path d="M273.0 534.4H305.0M273.0 546.1H305.0M289.0 534.4V546.1"/>
<path d="M353.0 648.8H385.0M353.0 649.9H385.0M369.0 648.8V649.9"/>
<path d="M703.5 648.3H735.5M703.5 649.4H735.5M719.5 648.3V649.4"/>
<path d="M814.2 557.9H846.2M814.2 571.0H846.2M830.2 557.9V571.0"/>
<path d="M894.2 432.0H926.2M894.2 453.5H926.2M910.2 432.0V453.5"/>
<path d="M974.2 429.8H1006.2M974.2 445.4H1006.2M990.2 429.8V445.4"/>
<path d="M1054.2 644.9H1086.2M1054.2 651.1H1086.2M1070.2 644.9V651.1"/>
</g>
<rect x="81.0" y="42.6" width="335.9" height="674.2" fill="none" stroke="#000" stroke-width="2.15" stroke-linejoin="round"/>
<rect x="431.5" y="42.6" width="335.8" height="674.2" fill="none" stroke="#000" stroke-width="2.15" stroke-linejoin="round"/>
<rect x="782.2" y="42.6" width="336.2" height="674.2" fill="none" stroke="#000" stroke-width="2.15" stroke-linejoin="round"/>
<text x="248.6" y="27.5" font-size="31.75" text-anchor="middle" fill="#111" stroke="#111">Earthroad (n = 181)</text>
<text x="599.1" y="27.5" font-size="31.75" text-anchor="middle" fill="#111" stroke="#111">Footpath (n = 139)</text>
<text x="950.0" y="27.5" font-size="31.75" text-anchor="middle" fill="#111" stroke="#111">Tarmac (n = 311)</text>
<line x1="73.2" x2="80" y1="686.30" y2="686.30" stroke="#222" stroke-width="2.1"/>
<text x="66.7" y="695.8" font-size="26.4" text-anchor="end" fill="#444" stroke="#444">0</text>
<line x1="73.2" x2="80" y1="546.42" y2="546.42" stroke="#222" stroke-width="2.1"/>
<text x="66.7" y="555.9" font-size="26.4" text-anchor="end" fill="#444" stroke="#444">5</text>
<line x1="73.2" x2="80" y1="406.55" y2="406.55" stroke="#222" stroke-width="2.1"/>
<text x="66.7" y="416.0" font-size="26.4" text-anchor="end" fill="#444" stroke="#444">10</text>
<line x1="73.2" x2="80" y1="266.67" y2="266.67" stroke="#222" stroke-width="2.1"/>
<text x="66.7" y="276.2" font-size="26.4" text-anchor="end" fill="#444" stroke="#444">15</text>
<line x1="73.2" x2="80" y1="126.80" y2="126.80" stroke="#222" stroke-width="2.1"/>
<text x="66.7" y="136.3" font-size="26.4" text-anchor="end" fill="#444" stroke="#444">20</text>
<text x="598.8" y="753" font-size="29" text-anchor="middle" fill="#000" stroke="#000">Mode of Transportation</text>
<text transform="translate(25.4,381) rotate(-90)" font-size="29" text-anchor="middle" fill="#000" stroke="#000">Mean Value (meters per second)</text>
<text x="1160.6" y="292.2" font-size="28.95" fill="#000" stroke="#000">Transportation</text>
<rect x="1163.6" y="313.2" width="40" height="39.4" fill="#ED706C" stroke="#F0524A" stroke-width="1.3"/>
<text x="1219.8" y="341.2" font-size="23.45" fill="#000" stroke="#000">Bicycle</text>
<rect x="1163.6" y="358.5" width="40" height="39.4" fill="#85BB27" stroke="#77AD1E" stroke-width="1.3"/>
<text x="1219.8" y="386.5" font-size="23.45" fill="#000" stroke="#000">Car</text>
<rect x="1163.6" y="403.8" width="40" height="39.4" fill="#5FD3C9" stroke="#48CCC1" stroke-width="1.3"/>
<text x="1219.8" y="431.8" font-size="23.45" fill="#000" stroke="#000">Motorcycle</text>
<rect x="1163.6" y="449.1" width="40" height="39.4" fill="#C77DFF" stroke="#C05CFF" stroke-width="1.3"/>
<text x="1219.8" y="477.1" font-size="23.45" fill="#000" stroke="#000">Walking</text>
</svg></body></html>
